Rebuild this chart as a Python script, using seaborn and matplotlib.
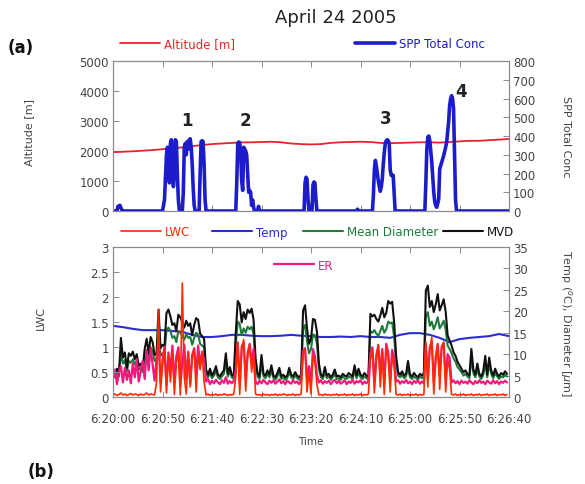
import matplotlib
matplotlib.use("Agg")
import matplotlib.pyplot as plt
import seaborn as sns

# ---------------- data ----------------
# flight altitude [m], every 10 s from 6:20:00
ALT_T = list(range(0, 401, 10))
ALTITUDE = [1960, 1975, 1990, 2010, 2030, 2060, 2090, 2120, 2160, 2200,
            2230, 2250, 2270, 2285, 2290, 2300, 2310, 2290, 2250, 2230,
            2220, 2230, 2270, 2290, 2300, 2310, 2300, 2270, 2260, 2270,
            2280, 2290, 2290, 2280, 2300, 2320, 2340, 2340, 2360, 2380,
            2400]

# SPP total concentration [cm-3]
SPP_T = [0, 4, 5, 7, 9, 11,
         50, 52, 54, 55, 56, 57, 58, 59, 60, 61, 62, 63, 64, 65, 66, 67, 68, 70,
         71, 72, 73, 74, 75, 76, 77, 78, 79, 80, 81, 82, 83, 86,
         87, 88, 89, 90, 91, 92, 93, 94,
         124, 125, 126, 127, 128, 129, 130, 131, 132, 133, 134, 135, 136, 137,
         138, 139, 140, 141, 142, 143,
         146, 147, 148,
         193, 194, 195, 196, 197, 198, 201, 202, 203, 204, 205, 206,
         246, 247, 248,
         262, 263, 264, 265, 266, 267, 268, 269, 270, 271, 272, 273, 274, 275,
         276, 277, 278, 279, 280, 281, 282, 283, 284, 285,
         315, 316, 317, 318, 319, 320, 321, 322, 323, 324, 325, 326, 327, 328,
         329, 330, 332, 334, 336, 337, 338, 339, 340, 341, 342, 343, 344, 345,
         346, 347, 400]
SPP_CONC = [0, 0, 25, 30, 5, 0,
            0, 60, 300, 340, 250, 150, 360, 380, 300, 130, 200, 380, 370, 200, 60, 5, 0, 0,
            100, 340, 360, 300, 370, 330, 380, 385, 340, 250, 120, 30, 0, 0,
            0, 200, 370, 375, 370, 250, 60, 0,
            0, 150, 360, 368, 365, 300, 160, 110, 340, 330, 320, 300, 200, 100,
            110, 100, 30, 60, 20, 0,
            0, 25, 0,
            0, 150, 180, 170, 60, 0, 0, 140, 155, 150, 60, 0,
            0, 10, 0,
            0, 80, 220, 270, 240, 200, 160, 130, 105, 130, 170, 250, 310, 360,
            375, 380, 375, 360, 220, 190, 190, 190, 100, 0,
            0, 150, 330, 395, 400, 375, 320, 260, 180, 100, 50, 28, 20, 40,
            64, 224, 260, 295, 340, 366, 420, 474, 560, 597, 615, 600, 544, 300,
            60, 0, 0]

# air temperature [deg C], every 10 s
TEMP_T = list(range(0, 401, 10))
TEMP = [16.6, 16.3, 15.9, 15.6, 15.6, 15.6, 15.4, 15.2, 14.5, 14.0,
        14.0, 14.2, 14.5, 14.5, 14.3, 14.2, 14.2, 14.3, 14.5, 14.3,
        14.2, 14.0, 14.0, 14.1, 14.0, 14.2, 14.0, 14.0, 13.8, 14.5,
        14.9, 14.9, 14.5, 13.8, 12.8, 13.5, 13.8, 14.0, 14.2, 14.7,
        14.2]

# 2-second microphysics record
FAST_T = list(range(0, 400, 2))

# liquid water content [g m-3]
LWC = [0.04, 0.06, 0.03, 0.05, 0.08, 0.04, 0.06, 0.03, 0.05, 0.07,
       0.04, 0.06, 0.05, 0.03, 0.06, 0.04, 0.05, 0.08, 0.04, 0.06,
       0.05, 0.04, 0.30, 1.75, 0.10, 0.62, 0.95, 0.08, 0.84, 0.30,
       0.92, 0.05, 0.70, 0.88, 0.04, 2.28, 0.40, 0.06, 0.90, 0.20,
       0.78, 0.96, 0.10, 0.85, 0.55, 0.90, 0.30, 0.04, 0.06, 0.03,
       0.05, 0.04, 0.06, 0.03, 0.05, 0.04, 0.06, 0.05, 0.03, 0.05,
       0.04, 0.06, 0.40, 1.10, 0.05, 0.95, 1.15, 0.12, 0.80, 1.05,
       0.50, 0.85, 0.06, 0.04, 0.05, 0.03, 0.06, 0.04, 0.05, 0.03,
       0.05, 0.04, 0.06, 0.03, 0.05, 0.04, 0.06, 0.05, 0.03, 0.05,
       0.04, 0.06, 0.03, 0.05, 0.04, 0.06, 0.85, 0.95, 0.10, 0.50,
       0.06, 0.82, 0.70, 0.25, 0.04, 0.05, 0.03, 0.06, 0.04, 0.05,
       0.03, 0.05, 0.04, 0.06, 0.03, 0.05, 0.04, 0.06, 0.03, 0.05,
       0.04, 0.06, 0.03, 0.05, 0.04, 0.06, 0.03, 0.05, 0.04, 0.06,
       0.75, 0.95, 0.08, 0.70, 1.05, 0.20, 0.90, 0.05, 1.00, 0.80,
       0.10, 0.85, 0.60, 0.05, 0.04, 0.06, 0.03, 0.05, 0.04, 0.06,
       0.03, 0.05, 0.04, 0.06, 0.03, 0.05, 0.04, 0.05, 1.10, 0.20,
       0.95, 1.20, 0.06, 0.70, 1.05, 0.15, 0.98, 1.10, 0.10, 0.75,
       0.55, 0.05, 0.04, 0.06, 0.03, 0.05, 0.04, 0.06, 0.03, 0.05,
       0.04, 0.06, 0.03, 0.05, 0.04, 0.06, 0.03, 0.05, 0.04, 0.06,
       0.03, 0.05, 0.04, 0.06, 0.03, 0.05, 0.04, 0.06, 0.03, 0.05]

# mean droplet diameter [um]
MEAN_DIAM = [5.0, 4.6, 5.4, 4.8, 10.6, 7.8, 8.6, 6.0, 8.4, 8.0,
             8.8, 7.6, 8.4, 6.4, 6.8, 5.8, 9.4, 11.0, 8.8, 11.6,
             10.6, 8.4, 8.8, 14.8, 9.6, 10.2, 10.0, 15.6, 16.2, 15.4,
             13.8, 14.2, 12.8, 15.4, 15.0, 14.2, 13.4, 14.6, 13.8, 14.0,
             12.2, 13.8, 15.0, 14.6, 12.4, 12.0, 11.6, 5.6, 4.6, 5.6,
             4.4, 5.0, 6.0, 4.6, 4.2, 4.8, 5.4, 8.2, 4.8, 6.0,
             4.6, 4.2, 12.4, 17.6, 17.0, 14.4, 16.0, 15.0, 16.4, 15.8,
             16.4, 14.6, 7.6, 4.8, 4.2, 8.0, 4.8, 4.4, 5.4, 4.6,
             6.2, 4.4, 4.0, 4.8, 5.8, 4.2, 4.6, 4.0, 4.4, 5.8,
             4.6, 4.2, 5.0, 4.4, 4.0, 4.6, 15.8, 16.8, 13.0, 10.2,
             11.2, 14.6, 14.4, 12.4, 6.6, 4.6, 4.2, 6.0, 4.4, 4.8,
             4.0, 4.6, 5.4, 4.2, 4.4, 4.0, 4.8, 4.4, 4.2, 4.8,
             4.6, 4.2, 6.2, 4.4, 5.6, 4.6, 4.2, 4.8, 4.4, 4.0,
             15.4, 15.0, 15.6, 14.8, 14.2, 15.4, 16.6, 15.0, 15.8, 17.6,
             17.2, 17.4, 14.0, 8.0, 5.0, 4.6, 5.2, 4.4, 4.8, 7.0,
             4.6, 4.2, 4.8, 4.4, 4.0, 4.8, 4.4, 4.8, 18.6, 19.8,
             16.6, 17.6, 15.8, 17.0, 18.6, 16.0, 16.8, 17.8, 15.8, 12.0,
             11.2, 10.2, 9.0, 8.2, 7.0, 6.4, 5.8, 5.0, 5.4, 4.8,
             4.4, 9.2, 5.6, 4.6, 6.6, 4.8, 4.2, 5.2, 8.0, 4.6,
             7.8, 5.4, 4.4, 5.6, 4.8, 4.2, 4.8, 4.6, 5.2, 4.8]

# median volume diameter [um]
MVD = [6.0, 5.2, 6.6, 5.4, 13.8, 9.2, 10.4, 6.8, 10.2, 9.6,
       10.6, 8.8, 10.0, 7.2, 7.8, 6.6, 11.2, 13.6, 10.2, 14.0,
       12.8, 9.8, 10.2, 20.4, 11.4, 12.2, 11.8, 19.6, 20.4, 18.8,
       16.8, 17.2, 15.4, 19.2, 18.6, 17.4, 16.2, 17.8, 16.6, 17.2,
       14.4, 16.8, 18.4, 18.0, 14.8, 14.2, 13.6, 6.4, 5.2, 6.6,
       5.0, 5.8, 7.2, 5.2, 4.8, 5.6, 6.2, 10.2, 5.4, 7.0,
       5.2, 4.8, 15.0, 22.4, 21.6, 17.4, 19.8, 18.2, 20.4, 19.6,
       20.6, 18.0, 9.0, 5.6, 4.8, 9.8, 5.4, 5.0, 6.2, 5.2,
       7.4, 5.0, 4.6, 5.6, 6.8, 4.8, 5.2, 4.6, 5.0, 6.8,
       5.2, 4.8, 5.8, 5.0, 4.6, 5.2, 20.2, 21.4, 16.0, 12.4,
       13.6, 18.2, 18.0, 15.2, 7.8, 5.2, 4.8, 7.0, 5.0, 5.4,
       4.6, 5.2, 6.4, 4.8, 5.0, 4.6, 5.4, 5.0, 4.8, 5.6,
       5.2, 4.8, 7.4, 5.0, 6.6, 5.2, 4.8, 5.6, 5.0, 4.6,
       19.4, 18.8, 19.2, 18.2, 17.6, 19.0, 20.8, 18.6, 19.6, 22.4,
       21.8, 22.2, 17.4, 9.6, 5.8, 5.2, 6.0, 5.0, 5.4, 8.4,
       5.2, 4.8, 5.6, 5.0, 4.6, 5.4, 5.0, 5.6, 24.8, 26.0,
       21.0, 22.4, 19.8, 21.6, 24.0, 20.2, 21.4, 22.8, 20.0, 14.4,
       13.2, 12.0, 10.4, 9.6, 8.2, 7.4, 6.6, 5.8, 6.2, 5.4,
       5.0, 11.2, 6.4, 5.2, 7.8, 5.4, 4.8, 6.0, 9.6, 5.2,
       9.2, 6.2, 5.0, 6.6, 5.4, 4.8, 5.6, 5.2, 6.0, 5.4]

# effective radius [um]
ER = [4.2, 6.4, 3.0, 5.8, 7.2, 3.4, 6.8, 4.0, 6.2, 3.2,
      7.8, 4.6, 8.8, 3.6, 6.0, 8.4, 4.2, 10.8, 6.2, 11.4,
      7.6, 3.8, 9.0, 12.4, 3.4, 8.6, 11.8, 2.8, 10.4, 6.2,
      12.0, 3.2, 9.6, 11.6, 2.6, 7.8, 12.2, 4.0, 10.6, 3.0,
      9.8, 11.4, 5.2, 12.0, 7.4, 10.6, 8.8, 3.6, 4.2, 3.0,
      3.8, 3.2, 4.0, 3.4, 3.0, 3.9, 3.3, 4.6, 3.1, 3.7,
      3.2, 3.8, 6.4, 12.6, 3.0, 11.8, 12.8, 4.4, 10.2, 12.4,
      7.8, 11.2, 3.6, 3.0, 3.8, 3.2, 4.0, 3.4, 3.0, 3.8,
      3.3, 3.9, 3.1, 3.6, 4.1, 3.2, 3.7, 3.0, 3.8, 3.4,
      3.1, 3.9, 3.3, 3.6, 3.0, 3.8, 10.8, 11.4, 4.2, 7.2,
      3.6, 11.2, 9.4, 5.2, 3.4, 3.9, 3.1, 3.7, 3.3, 3.8,
      3.0, 3.6, 4.0, 3.2, 3.8, 3.1, 3.5, 3.9, 3.0, 3.6,
      3.3, 4.0, 3.1, 3.7, 3.4, 3.9, 3.0, 3.6, 3.2, 3.8,
      10.2, 11.6, 3.4, 9.8, 12.0, 5.6, 11.2, 3.2, 12.4, 10.4,
      4.0, 11.0, 9.2, 3.6, 3.9, 3.1, 3.7, 3.3, 4.0, 3.2,
      3.6, 3.0, 3.8, 3.3, 3.9, 3.1, 3.6, 3.2, 12.2, 4.4,
      11.6, 12.8, 3.6, 9.4, 12.4, 5.0, 11.8, 12.6, 4.2, 10.0,
      9.2, 3.4, 3.9, 3.2, 3.7, 3.0, 3.8, 3.3, 3.6, 3.1,
      3.9, 3.4, 3.0, 3.7, 3.2, 3.9, 3.3, 3.6, 3.0, 3.8,
      3.4, 3.1, 3.9, 3.2, 3.7, 3.0, 3.6, 3.3, 3.8, 3.4]

TICK_SECONDS = [0, 50, 100, 150, 200, 250, 300, 350, 400]
TICK_LABELS = ["6:20:00", "6:20:50", "6:21:40", "6:22:30", "6:23:20",
               "6:24:10", "6:25:00", "6:25:50", "6:26:40"]

# cloud penetrations marked on the altitude panel
EVENT_LABELS = ["1", "2", "3", "4"]
EVENT_T = [75, 134, 275, 352]
EVENT_ALT = [3050, 3050, 3100, 4000]

# ---------------- style ----------------
sns.set_style("white")
plt.rcParams["font.family"] = ["DejaVu Sans"]

RED = "#e8222a"
BLUE = "#1c1ccc"
LWC_RED = "#ff2a00"
TEMP_BLUE = "#2b2bd0"
GREEN = "#1f7a3a"
BLACK = "#111111"
MAGENTA = "#f2187e"
TXT = "#444444"
SPINE = "#8a8a8a"

W, H = 585, 485
fig = plt.figure(figsize=(W / 100, H / 100), dpi=100)
fig.patch.set_facecolor("white")

def fx(px):
    return px / W

def fy(py):
    return 1 - py / H

ax_top = fig.add_axes([fx(113), fy(212), fx(509) - fx(113), fy(62) - fy(212)])
ax_bot = fig.add_axes([fx(113), fy(398), fx(509) - fx(113), fy(248) - fy(398)])


def style_axis(ax, show_x_labels):
    for sp in ax.spines.values():
        sp.set_color(SPINE)
        sp.set_linewidth(0.8)
    ax.tick_params(axis="both", direction="in", length=4, width=0.7,
                   color=SPINE, labelsize=8.5, labelcolor=TXT, pad=3)
    ax.tick_params(axis="x", top=True, bottom=True, labelbottom=show_x_labels,
                   pad=11)
    ax.set_xlim(0, 400)
    ax.set_xticks(TICK_SECONDS)
    ax.set_xticklabels(TICK_LABELS if show_x_labels else [])
    ax.grid(False)


# ---- upper panel: altitude and SPP concentration ----
sns.lineplot(x=ALT_T, y=ALTITUDE, ax=ax_top, color=RED, lw=1.3,
             estimator=None, label="Altitude [m]", legend=False)
ax_top.set_ylim(0, 5000)
ax_top.set_yticks(range(0, 5001, 1000))
style_axis(ax_top, False)
ax_top.set_ylabel("Altitude [m]", fontsize=8, color=TXT)
ax_top.yaxis.set_label_coords(-0.2, 0.53)
ax_top.set_xlabel("")

ax_top_r = ax_top.twinx()
sns.lineplot(x=SPP_T, y=SPP_CONC, ax=ax_top_r, color=BLUE, lw=2.6,
             estimator=None, label="SPP Total Conc", legend=False)
ax_top_r.set_ylim(0, 800)
ax_top_r.set_yticks(range(0, 801, 100))
style_axis(ax_top_r, False)
ax_top_r.tick_params(axis="y", right=True, left=False)
ax_top_r.set_ylabel("SPP Total Conc", fontsize=8, color=TXT, rotation=270)
ax_top_r.yaxis.set_label_coords(1.156, 0.5)

for lab, t, a in zip(EVENT_LABELS, EVENT_T, EVENT_ALT):
    ax_top.text(t, a, lab, ha="center", va="center", fontsize=12,
                fontweight="bold", color="#222222", zorder=5)

# ---- lower panel: microphysics ----
ax_bot_r = ax_bot.twinx()
sns.lineplot(x=TEMP_T, y=TEMP, ax=ax_bot_r, color=TEMP_BLUE, lw=1.5,
             estimator=None, label="Temp", legend=False)
sns.lineplot(x=FAST_T, y=MEAN_DIAM, ax=ax_bot_r, color=GREEN, lw=1.5,
             estimator=None, label="Mean Diameter", legend=False)
sns.lineplot(x=FAST_T, y=MVD, ax=ax_bot_r, color=BLACK, lw=1.5,
             estimator=None, label="MVD", legend=False)
sns.lineplot(x=FAST_T, y=ER, ax=ax_bot_r, color=MAGENTA, lw=1.6,
             estimator=None, label="ER", legend=False)
ax_bot_r.set_ylim(0, 35)
ax_bot_r.set_yticks(range(0, 36, 5))
style_axis(ax_bot_r, True)
ax_bot_r.tick_params(axis="y", right=True, left=False)
ax_bot_r.set_ylabel(r"Temp ($^{o}$C), Diameter [$\mu$m]", fontsize=8,
                    color=TXT, rotation=270)
ax_bot_r.yaxis.set_label_coords(1.164, 0.5)

sns.lineplot(x=FAST_T, y=LWC, ax=ax_bot, color=LWC_RED, lw=1.2,
             estimator=None, label="LWC", legend=False)
ax_bot.set_ylim(0, 3)
ax_bot.set_yticks([0, 0.5, 1, 1.5, 2, 2.5, 3])
ax_bot.set_yticklabels(["0", "0.5", "1", "1.5", "2", "2.5", "3"])
style_axis(ax_bot, True)
ax_bot.set_zorder(ax_bot_r.get_zorder() + 1)
ax_bot.patch.set_visible(False)
ax_bot_r.patch.set_visible(True)
ax_bot_r.patch.set_facecolor("white")
ax_bot.set_ylabel("LWC", fontsize=8, color=TXT)
ax_bot.yaxis.set_label_coords(-0.17, 0.53)
ax_bot.set_xlabel("Time", fontsize=7.5, color=TXT, labelpad=8)
ax_bot_r.set_xlabel("")

# ---- keys ----
def key(line, label, x_px, y_px):
    leg = fig.legend([line], [label], loc="center left",
                     bbox_to_anchor=(fx(x_px), fy(y_px)), frameon=False,
                     handlelength=3.4, handletextpad=0.3, borderpad=0,
                     borderaxespad=0, fontsize=8.5, labelcolor="linecolor")
    return leg

key(ax_top.lines[0], "Altitude [m]", 120, 45)
key(ax_top_r.lines[0], "SPP Total Conc", 355, 45)
key(ax_bot.lines[0], "LWC", 121, 233)
key(ax_bot_r.lines[0], "Temp", 212, 233)
key(ax_bot_r.lines[1], "Mean Diameter", 303, 233)
key(ax_bot_r.lines[2], "MVD", 443, 233)
key(ax_bot_r.lines[3], "ER", 274, 266)

# ---- titles and panel tags ----
fig.text(fx(336), fy(18), "April 24 2005", ha="center", va="center",
         fontsize=13, color="#222222")
fig.text(fx(8), fy(48), "(a)", ha="left", va="center", fontsize=12,
         fontweight="bold", color="#111111")
fig.text(fx(28), fy(472), "(b)", ha="left", va="center", fontsize=12,
         fontweight="bold", color="#111111")

fig.savefig("out.png", dpi=100, facecolor="white")
